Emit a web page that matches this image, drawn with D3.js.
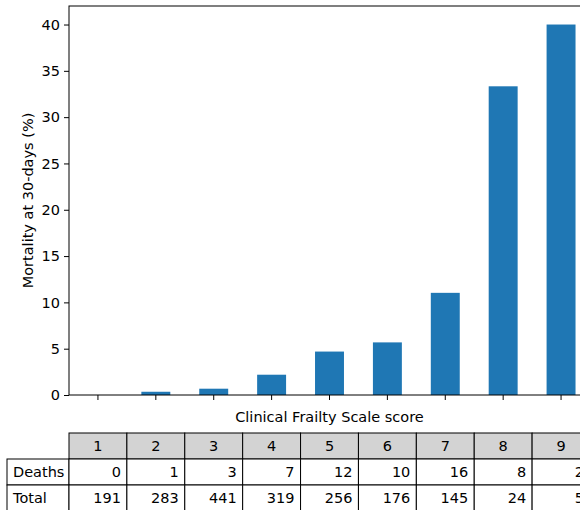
<!DOCTYPE html>
<html>
<head>
<meta charset="utf-8">
<script src="https://cdn.jsdelivr.net/npm/d3@7"></script>
<style>
  html, body { margin: 0; padding: 0; background: #fff; overflow: hidden; }
  svg { display: block; font-family: "DejaVu Sans", sans-serif; }
</style>
</head>
<body>
<svg id="chart" width="580" height="510"></svg>
<script>
const categories = ["1", "2", "3", "4", "5", "6", "7", "8", "9"];
const mortality = [0, 0.35, 0.68, 2.19, 4.69, 5.68, 11.03, 33.33, 40.0];
const deaths = [0, 1, 3, 7, 12, 10, 16, 8, 2];
const totals = [191, 283, 441, 319, 256, 176, 145, 24, 5];
const yTicks = [0, 5, 10, 15, 20, 25, 30, 35, 40];
const rowLabels = ["Deaths", "Total"];

const FS = 14.5;
const svg = d3.select("#chart");
const mLeft = 69, mRight = 590, mTop = 6, mBottom = 395;

const x = d3.scaleBand().domain(categories).range([mLeft, mRight])
  .paddingInner(0.5).paddingOuter(0.25);
const y = d3.scaleLinear().domain([0, 42]).range([mBottom, mTop]);

// bars
svg.append("g").selectAll("rect").data(mortality).join("rect")
  .attr("x", (d, i) => x(categories[i]))
  .attr("y", d => y(d))
  .attr("width", x.bandwidth())
  .attr("height", d => y(0) - y(d))
  .attr("fill", "#1f77b4");

// y axis
const yAxis = svg.append("g").attr("transform", `translate(${mLeft},0)`)
  .call(d3.axisLeft(y).tickValues(yTicks).tickSize(5).tickPadding(4).tickFormat(d3.format("d")));
yAxis.attr("font-size", FS).attr("font-family", "DejaVu Sans");
yAxis.select(".domain").remove();
yAxis.selectAll("text").attr("fill", "#000");
yAxis.selectAll("line").attr("stroke", "#000");

// x axis
const xAxis = svg.append("g").attr("transform", `translate(0,${mBottom})`)
  .call(d3.axisBottom(x).tickSize(5).tickFormat(""));
xAxis.select(".domain").remove();
xAxis.selectAll("line").attr("stroke", "#000");

// spines
svg.append("rect").attr("x", mLeft).attr("y", mTop)
  .attr("width", mRight - mLeft).attr("height", mBottom - mTop)
  .attr("fill", "none").attr("stroke", "#000").attr("stroke-width", 1);

// labels
svg.append("text").attr("x", (mLeft + mRight) / 2).attr("y", 422)
  .attr("text-anchor", "middle").attr("font-size", FS).attr("fill", "#000")
  .text("Clinical Frailty Scale score");
svg.append("text").attr("transform", `translate(33,${(mTop + mBottom) / 2}) rotate(-90)`)
  .attr("text-anchor", "middle").attr("font-size", FS).attr("fill", "#000")
  .text("Mortality at 30-days (%)");

// table
const col = d3.scaleBand().domain(categories).range([mLeft, mRight]);
const rowH = 26, tTop = 433, labelLeft = 7;
const tbl = svg.append("g").attr("font-size", FS);
categories.forEach((c, i) => {
  tbl.append("rect").attr("x", col(c)).attr("y", tTop)
    .attr("width", col.bandwidth()).attr("height", rowH)
    .attr("fill", "#d3d3d3").attr("stroke", "#000").attr("stroke-width", 1);
  tbl.append("text").attr("x", col(c) + col.bandwidth() / 2).attr("y", tTop + rowH / 2)
    .attr("dy", "0.35em").attr("text-anchor", "middle").text(c);
});
const rows = [deaths, totals];
rows.forEach((vals, r) => {
  const ry = tTop + rowH * (r + 1);
  tbl.append("rect").attr("x", labelLeft).attr("y", ry)
    .attr("width", mLeft - labelLeft).attr("height", rowH)
    .attr("fill", "#fff").attr("stroke", "#000").attr("stroke-width", 1);
  tbl.append("text").attr("x", labelLeft + 6).attr("y", ry + rowH / 2)
    .attr("dy", "0.35em").text(rowLabels[r]);
  vals.forEach((v, i) => {
    const c = categories[i];
    tbl.append("rect").attr("x", col(c)).attr("y", ry)
      .attr("width", col.bandwidth()).attr("height", rowH)
      .attr("fill", "#fff").attr("stroke", "#000").attr("stroke-width", 1);
    tbl.append("text").attr("x", col(c) + col.bandwidth() - 6).attr("y", ry + rowH / 2)
      .attr("dy", "0.35em").attr("text-anchor", "end").text(v);
  });
});
</script>
</body>
</html>
